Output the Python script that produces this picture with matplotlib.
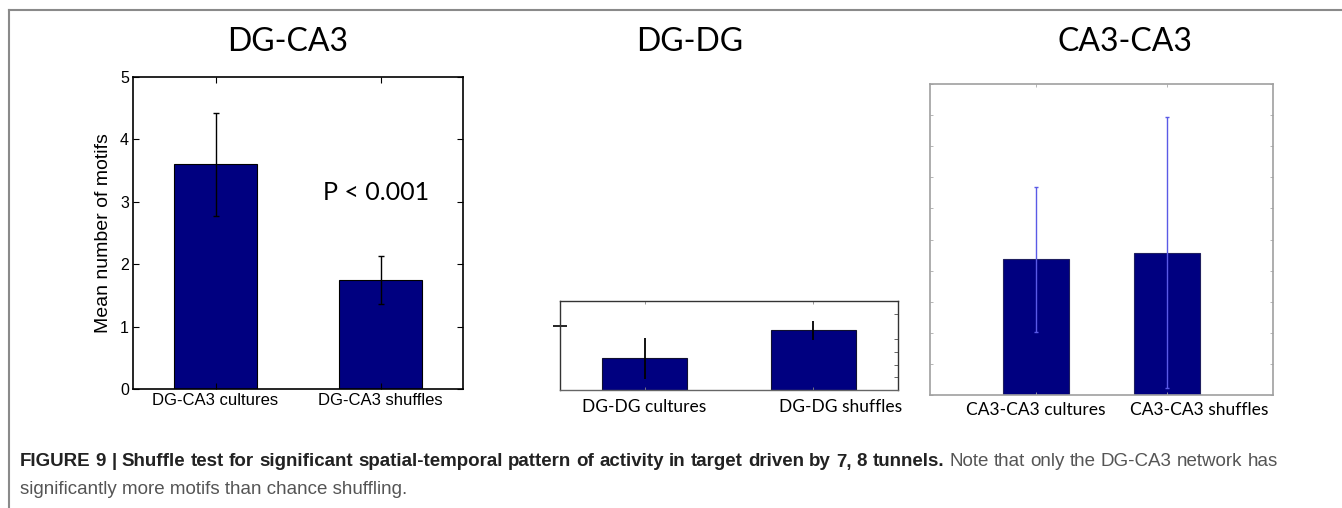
import matplotlib
matplotlib.use('Agg')
import matplotlib.pyplot as plt
from matplotlib.lines import Line2D

# Data
dgca3_labels = ['DG-CA3 cultures', 'DG-CA3 shuffles']
dgca3_means = [3.6, 1.75]
dgca3_err = [0.82, 0.38]

dgdg_labels = ['DG-DG cultures', 'DG-DG shuffles']
dgdg_means = [2.48, 4.68]
dgdg_err = [1.63, 0.72]

ca3ca3_labels = ['CA3-CA3 cultures', 'CA3-CA3 shuffles']
ca3ca3_means = [4.37, 4.58]
ca3ca3_err = [2.33, 4.36]

titles = ['DG-CA3', 'DG-DG', 'CA3-CA3']
caption_bold = ('FIGURE 9 | Shuffle test for significant spatial-temporal pattern of '
                'activity in target driven by 7, 8 tunnels.')
caption_reg1 = 'Note that only the DG-CA3 network has'
caption_reg2 = 'significantly more motifs than chance shuffling.'

W, H = 1342, 508
fig = plt.figure(figsize=(W / 100, H / 100), dpi=100)
fig.patch.set_facecolor('white')


def px_axes(x0, y0, x1, y1):
    # axes from pixel box (top-left origin)
    return fig.add_axes([x0 / W, 1 - y1 / H, (x1 - x0) / W, (y1 - y0) / H])


bar_color = '#000080'
calibri = ['Lato', 'DejaVu Sans']
helv = ['Liberation Sans', 'DejaVu Sans']
pos = [1, 2]

# ---- Panel 1: DG-CA3
ax1 = px_axes(133, 77, 463, 389)
ax1.bar(pos, dgca3_means, width=0.5, color=bar_color, edgecolor='black', linewidth=0.8)
ax1.errorbar(pos, dgca3_means, yerr=dgca3_err, fmt='none', ecolor='black',
             elinewidth=1.0, capsize=2, capthick=1.0)
ax1.set_xlim(0.5, 2.5)
ax1.set_ylim(0, 5)
ax1.set_xticks(pos)
ax1.set_xticklabels(dgca3_labels, fontsize=12, family=helv)
ax1.set_yticks(range(6))
ax1.set_yticklabels([str(i) for i in range(6)], fontsize=11.5, family=helv)
ax1.tick_params(direction='in', top=True, right=True, length=4, width=0.8, pad=3)
ax1.set_ylabel('Mean number of motifs', fontsize=14, family=helv, labelpad=6)
for s in ax1.spines.values():
    s.set_linewidth(1.2)
ax1.text(0.575, 0.63, 'P < 0.001', transform=ax1.transAxes, fontsize=18,
         family=calibri, ha='left', va='center')

# ---- Panel 2: DG-DG
ax2 = px_axes(560, 301, 898, 390)
ax2.bar(pos, dgdg_means, width=0.5, color=bar_color, edgecolor='#101030', linewidth=0.8)
ax2.errorbar(pos, dgdg_means, yerr=dgdg_err, fmt='none', ecolor='black',
             elinewidth=1.3, capsize=0)
ax2.set_xlim(0.5, 2.5)
ax2.set_ylim(0, 7)
ax2.set_xticks(pos)
ax2.set_xticklabels([])
ax2.tick_params(axis='x', direction='in', top=True, bottom=True, length=2,
                width=0.6, color='#888888')
ax2.set_yticks([5])
ax2.set_yticklabels([])
ax2.set_yticks(range(8), minor=True)
ax2.tick_params(axis='y', which='major', direction='inout', left=True, right=False,
                length=10, width=1.2)
ax2.tick_params(axis='y', which='minor', direction='in', left=False, right=True,
                length=3, width=0.7, color='#666666')
for side, s in ax2.spines.items():
    s.set_linewidth(1.0)
    s.set_color('#333333' if side in ('left', 'top', 'right') else '#666666')
for x, lab in zip([1.0, 2.16], dgdg_labels):
    ax2.text(x, -0.1, lab, transform=ax2.get_xaxis_transform(), ha='center',
             va='top', fontsize=12.5, family=calibri)

# ---- Panel 3: CA3-CA3
ax3 = px_axes(930, 84, 1273, 395)
ax3.bar(pos, ca3ca3_means, width=0.5, color=bar_color, edgecolor='#202060', linewidth=0.8)
ax3.errorbar(pos, ca3ca3_means, yerr=ca3ca3_err, fmt='none', ecolor='#5a5ae6',
             elinewidth=1.0, capsize=1.5, capthick=1.0)
ax3.set_xlim(0.2, 2.8)
ax3.set_ylim(0, 10)
ax3.set_xticks(pos)
ax3.set_xticklabels([])
ax3.set_yticks(range(11))
ax3.set_yticklabels([])
ax3.tick_params(direction='in', top=True, right=True, length=2, width=0.6,
                color='#aaaaaa')
for s in ax3.spines.values():
    s.set_linewidth(1.2)
    s.set_color('#a0a0a0')
for x, lab in zip([1.0, 2.24], ca3ca3_labels):
    ax3.text(x, -0.022, lab, transform=ax3.get_xaxis_transform(), ha='center',
             va='top', fontsize=12.5, family=calibri)

# ---- Panel titles
title_x = [288, 690, 1125]
for t, x in zip(titles, title_x):
    fig.text(x / W, 1 - 42 / H, t, fontsize=23, family=calibri, ha='center', va='center')

# ---- Border lines
fig.add_artist(Line2D([9 / W, 1], [1 - 10 / H, 1 - 10 / H], color='#8a8a8a', lw=1.5))
fig.add_artist(Line2D([9 / W, 9 / W], [0, 1 - 10 / H], color='#8a8a8a', lw=1.5))

# ---- Caption (first line justified word by word)
cap_size = 13.5
renderer = fig.canvas.get_renderer()
words = [(w, 'bold', '#222222') for w in caption_bold.split()] + \
        [(w, 'normal', '#555555') for w in caption_reg1.split()]
texts = []
for w, weight, col in words:
    t = fig.text(0, 1 - 462 / H, w, fontsize=cap_size, fontweight=weight, family=helv,
                 color=col, ha='left', va='center')
    texts.append(t)
widths = [t.get_window_extent(renderer).width for t in texts]
x_start, x_end = 20, 1278
gap = (x_end - x_start - sum(widths)) / (len(texts) - 1)
x = x_start
for t, wd in zip(texts, widths):
    t.set_x(x / W)
    x += wd + gap
fig.text(x_start / W, 1 - 489 / H, caption_reg2, fontsize=cap_size, family=helv,
         color='#555555', ha='left', va='center')

plt.savefig('out.png', dpi=100)
